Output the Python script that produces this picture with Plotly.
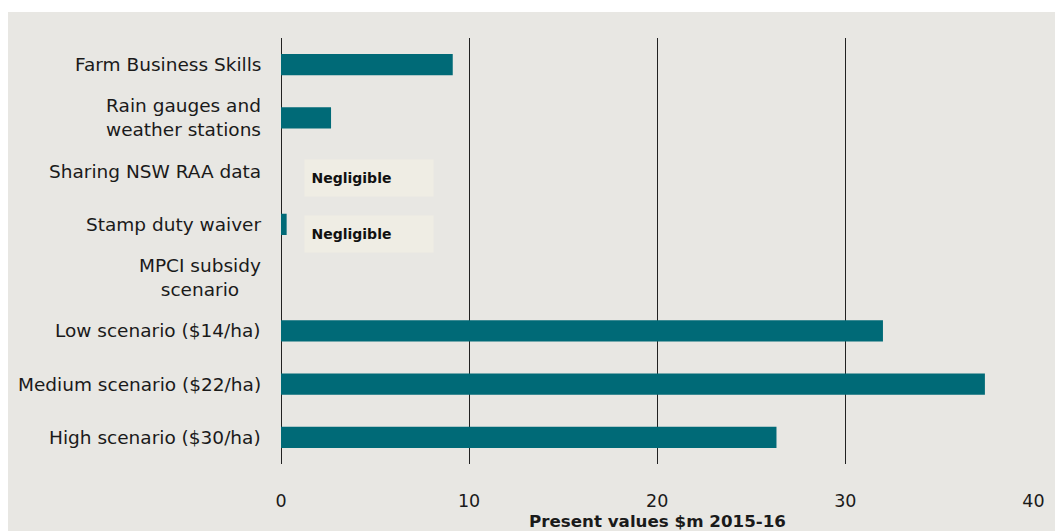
import plotly.graph_objects as go

# Present values by program component ($m, 2015-16)
categories = [
    "Farm Business Skills",
    "Rain gauges and<br>weather stations",
    "Sharing NSW RAA data",
    "Stamp duty waiver",
    "MPCI subsidy<br>scenario",
    "Low scenario ($14/ha)",
    "Medium scenario ($22/ha)",
    "High scenario ($30/ha)",
]
values = [9.13, 2.66, 0, 0.3, None, 32.0, 37.42, 26.34]
negligible_rows = ["Sharing NSW RAA data", "Stamp duty waiver"]
x_ticks = [0, 10, 20, 30, 40]

BG = "#e8e7e3"
BAR = "#006a77"
INK = "#1a1a1a"
FONT = "DejaVu Sans"

fig = go.Figure(
    go.Bar(
        y=categories,
        x=values,
        orientation="h",
        width=0.4,
        marker=dict(color=BAR, line=dict(width=0)),
        hoverinfo="skip",
    )
)

# Category labels, centred line-by-line and right-anchored to the axis
for cat in categories:
    fig.add_annotation(
        x=0, y=cat, xref="x", yref="y",
        text=cat, showarrow=False,
        xanchor="right", xshift=-18, align="center",
        font=dict(family=FONT, size=18.5, color=INK),
    )

# "Negligible" callouts
for cat, dy in zip(negligible_rows, [-7, -10]):
    fig.add_annotation(
        x=1.2, y=cat, xref="x", yref="y",
        text="&nbsp;<b>Negligible</b>", showarrow=False,
        xanchor="left", yshift=dy, align="left",
        width=124, height=32, borderpad=2,
        bgcolor="#efede4",
        font=dict(family=FONT, size=14, color="#111111"),
    )

# white frame strips around the grey panel
fig.add_shape(type="rect", xref="paper", yref="paper",
              x0=-0.4, x1=(8 - 281) / 753, y0=-0.2, y1=1.2,
              fillcolor="white", line=dict(width=0), layer="above")
fig.add_shape(type="rect", xref="paper", yref="paper",
              x0=-0.4, x1=1.1, y0=(464 - 12) / 426, y1=1.2,
              fillcolor="white", line=dict(width=0), layer="above")

fig.update_layout(
    width=1055, height=531,
    margin=dict(l=281, r=21, t=38, b=67, autoexpand=False),
    paper_bgcolor=BG, plot_bgcolor=BG,
    showlegend=False,
    bargap=0.6,
    xaxis=dict(
        range=[0, 40.03], tickvals=x_ticks,
        automargin=False,
        showgrid=True, gridcolor="#222222", gridwidth=1,
        zeroline=True, zerolinecolor="#222222", zerolinewidth=1,
        ticks="outside", ticklen=21, tickcolor="rgba(0,0,0,0)",
        tickfont=dict(family=FONT, size=17.5, color=INK),
        title=dict(text="<b>Present values $m 2015-16</b>", standoff=6,
                   font=dict(family=FONT, size=16.7, color=INK)),
        fixedrange=True,
    ),
    yaxis=dict(
        categoryorder="array", categoryarray=categories,
        autorange="reversed", showticklabels=False, automargin=False,
        showgrid=False, zeroline=False, fixedrange=True,
    ),
)

fig.write_html("out.html")
